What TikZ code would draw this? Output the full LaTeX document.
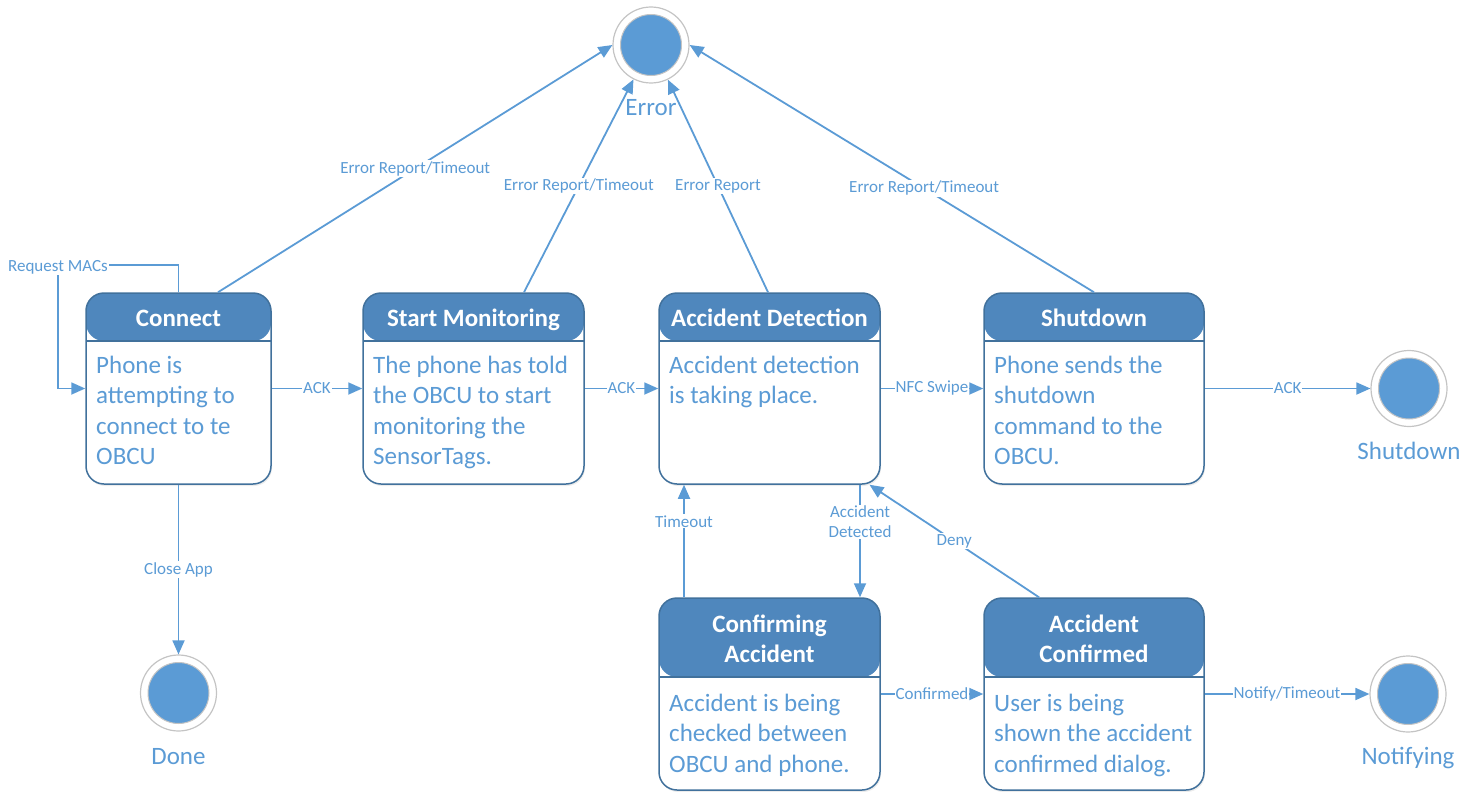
\documentclass[tikz,border=0pt]{standalone}
\usepackage{fontspec}
\setmainfont{Carlito}
\usetikzlibrary{arrows.meta,shadows}
\definecolor{hdr}{HTML}{4F87BD}
\definecolor{brd}{HTML}{41719C}
\definecolor{lb}{HTML}{5B9BD5}
\definecolor{ring}{HTML}{C4C4C4}
\tikzset{
  statebox/.style={draw=brd, line width=1.5pt, rounded corners=18pt, fill=white,
    drop shadow={shadow xshift=1pt, shadow yshift=-2pt, opacity=0.15},
    inner sep=0pt, minimum height=191pt},
  hdrfill/.style={path picture={\fill[hdr] (path picture bounding box.north west) rectangle ([yshift=-#1]path picture bounding box.north east);
      \draw[brd, line width=1.2pt] ([yshift=-#1]path picture bounding box.north west) -- ([yshift=-#1]path picture bounding box.north east);}},
  ttl/.style={text=white, font=\fontsize{25}{30}\selectfont\bfseries, align=center, inner sep=0pt, anchor=base},
  body/.style={text=lb, font=\fontsize{25}{30.5}\selectfont, align=left, anchor=base west, inner sep=0pt},
  conn/.style={draw=lb, line width=1.8pt, -{Triangle[length=14pt,width=12pt]}},
  lbl/.style={text=lb, font=\fontsize{17}{20}\selectfont, fill=white, inner sep=1pt, align=center},
  endring/.style={circle, draw=ring, line width=1.2pt, fill=white, minimum size=76pt, inner sep=0pt,
    path picture={\fill[lb] (path picture bounding box.center) circle (30.5pt);
      \draw[ring, line width=1pt] (path picture bounding box.center) circle (30.5pt);}},
  endlbl/.style={text=lb, font=\fontsize{25}{28}\selectfont, inner sep=0pt, anchor=base}
}
\begin{document}
\begin{tikzpicture}[x=1pt,y=-1pt]
\useasboundingbox (0,0) rectangle (1478,792);

% states
\node[statebox, hdrfill=48pt, minimum width=185pt] (connect) at (178.5,388.5) {};
\node[statebox, hdrfill=48pt, minimum width=221pt] (start) at (473.5,388.5) {};
\node[statebox, hdrfill=48pt, minimum width=221pt] (accdet) at (769.5,388.5) {};
\node[statebox, hdrfill=48pt, minimum width=220pt] (shut) at (1094,388.5) {};
\node[statebox, hdrfill=79pt, minimum width=221pt, minimum height=192pt] (confirm) at (769.5,694) {};
\node[statebox, hdrfill=79pt, minimum width=220pt, minimum height=192pt] (accconf) at (1094,694) {};

% titles (base = last line baseline)
\node[ttl] (tconnect) at (178.5,326) {Connect};
\node[ttl] (tstart) at (473.5,326) {Start Monitoring};
\node[ttl] (taccdet) at (769.5,326) {Accident Detection};
\node[ttl] (tshut) at (1094,326) {Shutdown};
\node[ttl] (tconfirm) at (769.5,662) {Confirming\\Accident};
\node[ttl] (taccconf) at (1094,662) {Accident\\Confirmed};

% bodies (base = last line baseline)
\node[body] (bconnect) at (96,464.5) {Phone is\\attempting to\\connect to te\\OBCU};
\node[body] (bstart) at (373,464.5) {The phone has told\\the OBCU to start\\monitoring the\\SensorTags.};
\node[body] (baccdet) at (669,403.5) {Accident detection\\is taking place.};
\node[body] (bshut) at (994,464.5) {Phone sends the\\shutdown\\command to the\\OBCU.};
\node[body] (bconfirm) at (669,772) {Accident is being\\checked between\\OBCU and phone.};
\node[body] (baccconf) at (994,772) {User is being\\shown the accident\\confirmed dialog.};

% end states
\node[endring] (errorS) at (651,45) {};
\node[endlbl] (lerror) at (651,115) {Error};
\node[endring] (shutS) at (1409,388.5) {};
\node[endlbl] (lshut) at (1409,459) {Shutdown};
\node[endring] (doneS) at (178.5,693) {};
\node[endlbl] (ldone) at (178.5,764) {Done};
\node[endring] (notS) at (1408,694) {};
\node[endlbl] (lnot) at (1408,764) {Notifying};

% connectors to error
\draw[conn] ([xshift=39.5pt]connect.north) -- node[lbl]{Error Report/Timeout} (errorS.west);
\draw[conn] ([xshift=50.5pt]start.north) -- node[lbl]{Error Report/Timeout} (errorS.243);
\draw[conn] ([xshift=-1.5pt]accdet.north) -- node[lbl]{Error Report} (errorS.296);
\draw[conn] (shut.north) -- node[lbl, pos=0.42]{Error Report/Timeout} (errorS.east);

% self loop
\coordinate (rq) at (58,265);
\draw[conn] (connect.north) |- (rq) node[lbl, yshift=-2pt]{Request MACs} |- (connect.west);

% horizontal
\draw[conn] (connect.east) -- node[lbl]{ACK} (start.west);
\draw[conn] (start.east) -- node[lbl]{ACK} (accdet.west);
\draw[conn] (accdet.east) -- node[lbl]{NFC Swipe} (shut.west);
\draw[conn] (shut.east) -- node[lbl]{ACK} (shutS.west);
\draw[conn] (connect.south) -- node[lbl]{Close App} (doneS.north);
\draw[conn] (confirm.east) -- node[lbl]{Confirmed} (accconf.west);
\draw[conn] (accconf.east) -- node[lbl]{Notify/Timeout} (notS.west);

% lower
\draw[conn] ([xshift=-85.5pt]confirm.north) -- node[lbl, pos=0.675]{Timeout} ([xshift=-85.5pt]accdet.south);
\draw[conn] ([xshift=90.5pt]accdet.south) -- node[lbl, pos=0.33]{Accident\\Detected} ([xshift=90.5pt]confirm.north);
\draw[conn] ([xshift=-55pt]accconf.north) -- node[lbl]{Deny} ([xshift=100pt]accdet.south);
\end{tikzpicture}
\end{document}
